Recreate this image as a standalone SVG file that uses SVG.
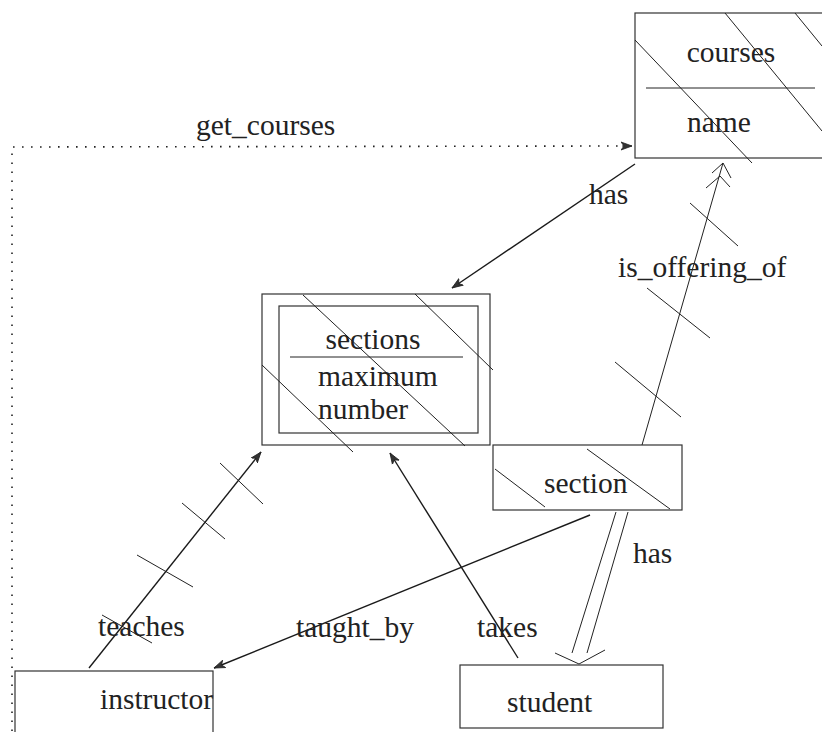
<svg xmlns="http://www.w3.org/2000/svg" width="822" height="732" viewBox="0 0 822 732">
  <defs>
    <style>
      .box { fill: none; stroke: #333; stroke-width: 1.2; }
      .hatch { fill: none; stroke: #222; stroke-width: 1; }
      .conn { fill: none; stroke: #1a1a1a; stroke-width: 1.4; }
      .thin { fill: none; stroke: #222; stroke-width: 1; }
      .dot { fill: none; stroke: #222; stroke-width: 1.6; stroke-dasharray: 1.6 7.4; }
      text { font-family: "Liberation Serif", "Times New Roman", serif; font-size: 29.5px; fill: #222; }
    </style>
    <marker id="arrow" viewBox="0 0 12 10" refX="11" refY="5" markerWidth="12" markerHeight="10" markerUnits="userSpaceOnUse" orient="auto">
      <path d="M0,1 L11,5 L0,9 L3,5 Z" fill="#333" stroke="#222" stroke-width="0.8"/>
    </marker>
  </defs>

  <!-- entity: courses -->
  <g id="courses">
    <rect class="box" x="635" y="13" width="200" height="145"/>
    <line class="thin" x1="646" y1="88" x2="815" y2="88"/>
    <line class="hatch" x1="635" y1="40" x2="752" y2="163"/>
    <line class="hatch" x1="725" y1="13" x2="822" y2="131"/>
    <line class="hatch" x1="795" y1="13" x2="822" y2="46"/>
    <text x="731" y="62" text-anchor="middle">courses</text>
    <text x="687" y="132">name</text>
  </g>

  <!-- entity: sections (weak, double border) -->
  <g id="sections">
    <rect class="box" x="262" y="294" width="228" height="151"/>
    <rect class="box" x="279" y="306" width="199" height="127"/>
    <line class="thin" x1="290" y1="357" x2="463" y2="357"/>
    <line class="hatch" x1="303" y1="295" x2="465" y2="446"/>
    <line class="hatch" x1="415" y1="294" x2="493" y2="370"/>
    <line class="hatch" x1="262" y1="365" x2="353" y2="452"/>
    <text x="373" y="349" text-anchor="middle">sections</text>
    <text x="318" y="386">maximum</text>
    <text x="318" y="419">number</text>
  </g>

  <!-- entity: section -->
  <g id="section">
    <rect class="box" x="493" y="445" width="189" height="65"/>
    <line class="hatch" x1="495" y1="469" x2="545" y2="507"/>
    <line class="hatch" x1="587" y1="449" x2="670" y2="509"/>
    <text x="544" y="493">section</text>
  </g>

  <!-- entity: instructor -->
  <g id="instructor">
    <rect class="box" x="15" y="671" width="198" height="70"/>
    <text x="100" y="709">instructor</text>
  </g>

  <!-- entity: student -->
  <g id="student">
    <rect class="box" x="460" y="665" width="203" height="63"/>
    <text x="507" y="712">student</text>
  </g>

  <!-- relationships -->
  <g id="connectors">
    <!-- get_courses (dotted) -->
    <polyline class="dot" points="12,731 12,147 622,146"/>
    <line class="thin" x1="622" y1="146" x2="632" y2="146" marker-end="url(#arrow)"/>
    <text x="196" y="135">get_courses</text>

    <!-- has: courses to sections -->
    <line class="conn" x1="635" y1="164" x2="452" y2="288" marker-end="url(#arrow)"/>
    <text x="589" y="204">has</text>

    <!-- is_offering_of: section to courses -->
    <line class="thin" x1="642" y1="445" x2="723" y2="163"/>
    <polyline class="thin" points="712,173 723,163 731,178"/>
    <polyline class="thin" points="706,188 720,176 730,187"/>
    <line class="hatch" x1="690" y1="203" x2="738" y2="246"/>
    <line class="hatch" x1="647" y1="288" x2="710" y2="338"/>
    <line class="hatch" x1="615" y1="362" x2="681" y2="417"/>
    <text x="618" y="277">is_offering_of</text>

    <!-- teaches: instructor to sections -->
    <line class="conn" x1="89" y1="668" x2="261" y2="452" marker-end="url(#arrow)"/>
    <line class="hatch" x1="220" y1="463" x2="263" y2="504"/>
    <line class="hatch" x1="182" y1="503" x2="225" y2="539"/>
    <line class="hatch" x1="137" y1="555" x2="193" y2="587"/>
    <line class="hatch" x1="102" y1="615" x2="152" y2="643"/>
    <text x="98" y="636">teaches</text>

    <!-- taught_by: section to instructor -->
    <line class="conn" x1="590" y1="515" x2="214" y2="668" marker-end="url(#arrow)"/>
    <text x="296" y="637">taught_by</text>

    <!-- takes: student to sections -->
    <line class="conn" x1="518" y1="658" x2="390" y2="453" marker-end="url(#arrow)"/>
    <text x="477" y="637">takes</text>

    <!-- has: section to student (double line) -->
    <line class="thin" x1="616" y1="512" x2="572" y2="653"/>
    <line class="thin" x1="628" y1="512" x2="587" y2="653"/>
    <polyline class="thin" points="555,653 579,664 605,650"/>
    <text x="633" y="563">has</text>
  </g>
</svg>
